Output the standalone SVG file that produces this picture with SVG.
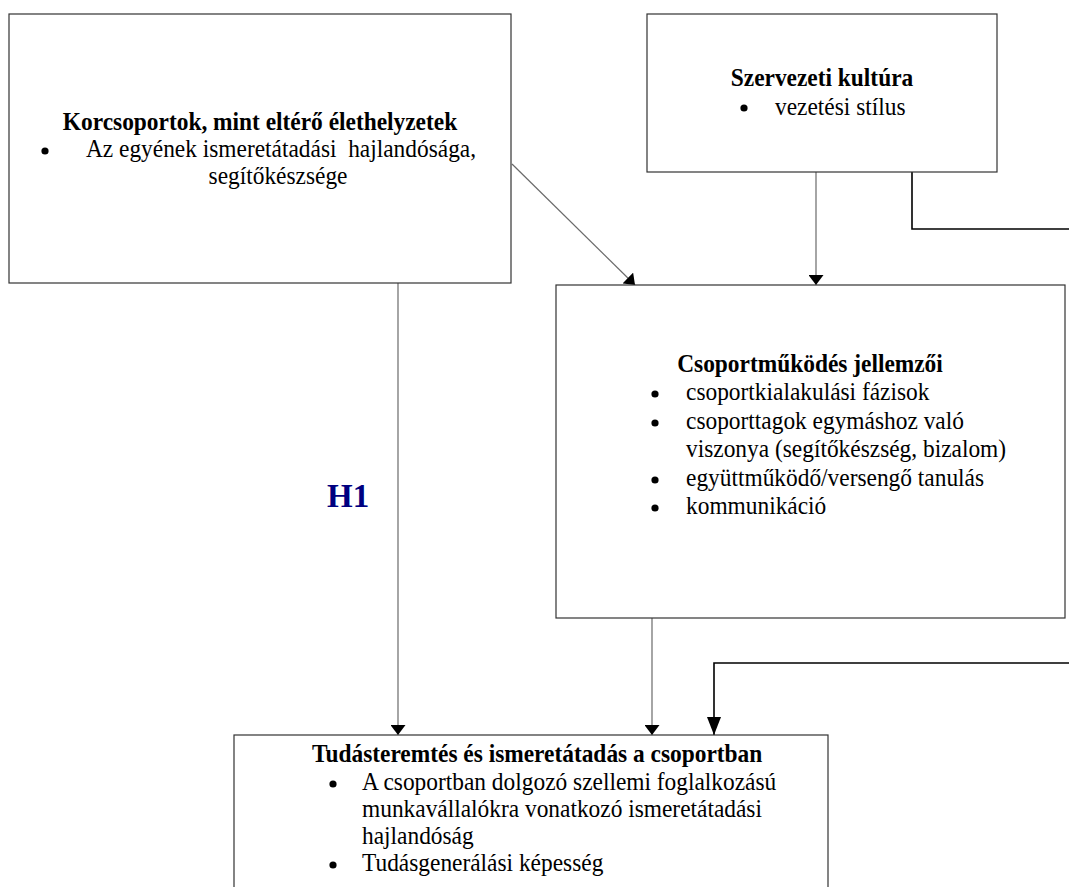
<svg xmlns="http://www.w3.org/2000/svg" width="1069" height="887" viewBox="0 0 1069 887">
<defs>
<style>
.box{fill:#fff;stroke:#333;stroke-width:1.2}
.t{font-family:"Liberation Serif","Times New Roman",serif;font-size:24.5px;fill:#000}
.b{font-weight:bold}
.m{text-anchor:middle}
.c{fill:none;stroke:#6a6a6a;stroke-width:1.2}
.k{fill:none;stroke:#000;stroke-width:1.6}
.d{fill:#000}
</style>
<marker id="ah" viewBox="0 0 10 10" refX="10" refY="5" markerWidth="10" markerHeight="15" markerUnits="userSpaceOnUse" orient="auto" preserveAspectRatio="none">
<path d="M0,0L10,5L0,10z" fill="#000"/>
</marker>
<marker id="ahb" viewBox="0 0 10 10" refX="10" refY="5" markerWidth="18" markerHeight="14" markerUnits="userSpaceOnUse" orient="auto" preserveAspectRatio="none">
<path d="M0,0L10,5L0,10z" fill="#000"/>
</marker>
</defs>
<rect width="1069" height="887" fill="#fff"/>
<g id="connectors">
<line class="c" x1="512" y1="164" x2="635" y2="285" marker-end="url(#ah)"/>
<line class="c" x1="816" y1="172" x2="816" y2="285" marker-end="url(#ah)"/>
<polyline class="k" points="912,172 912,229 1069,229"/>
<line class="c" x1="398" y1="283" x2="398" y2="735" marker-end="url(#ah)"/>
<line class="c" x1="652" y1="618" x2="652" y2="735" marker-end="url(#ah)"/>
<polyline class="k" points="1069,663 714,663 714,735" marker-end="url(#ahb)"/>
</g>
<g id="node-korcsoportok">
<rect class="box" x="9" y="14" width="502" height="269"/>
<text class="t b m" transform="translate(260,130) scale(0.955,1)">Korcsoportok, mint eltérő élethelyzetek</text>
<circle class="d" cx="45" cy="151" r="3.6"/>
<text class="t m" transform="translate(281,157) scale(0.955,1)" xml:space="preserve">Az egyének ismeretátadási  hajlandósága,</text>
<text class="t m" transform="translate(278,184) scale(0.955,1)">segítőkészsége</text>
</g>
<g id="node-szervezeti">
<rect class="box" x="647" y="14" width="350" height="158"/>
<text class="t b m" transform="translate(822,86) scale(0.955,1)">Szervezeti kultúra</text>
<circle class="d" cx="744" cy="108" r="3.6"/>
<text class="t" transform="translate(775,115) scale(0.955,1)">vezetési stílus</text>
</g>
<g id="node-csoportmukodes">
<rect class="box" x="556" y="285" width="509" height="333"/>
<text class="t b m" transform="translate(810,372) scale(0.955,1)">Csoportműködés jellemzői</text>
<circle class="d" cx="655" cy="394" r="3.6"/>
<text class="t" transform="translate(686,400) scale(0.955,1)">csoportkialakulási fázisok</text>
<circle class="d" cx="655" cy="423" r="3.6"/>
<text class="t" transform="translate(686,429) scale(0.955,1)">csoporttagok egymáshoz való</text>
<text class="t" transform="translate(686,457) scale(0.955,1)">viszonya (segítőkészség, bizalom)</text>
<circle class="d" cx="655" cy="480" r="3.6"/>
<text class="t" transform="translate(686,486) scale(0.955,1)">együttműködő/versengő tanulás</text>
<circle class="d" cx="655" cy="508" r="3.6"/>
<text class="t" transform="translate(686,514) scale(0.955,1)">kommunikáció</text>
</g>
<g id="node-tudasteremtes">
<rect class="box" x="234" y="735" width="594" height="170"/>
<text class="t b" transform="translate(312,762) scale(0.955,1)">Tudásteremtés és ismeretátadás a csoportban</text>
<circle class="d" cx="333" cy="784" r="3.6"/>
<text class="t" transform="translate(362,790) scale(0.955,1)">A csoportban dolgozó szellemi foglalkozású</text>
<text class="t" transform="translate(362,817) scale(0.955,1)">munkavállalókra vonatkozó ismeretátadási</text>
<text class="t" transform="translate(362,844) scale(0.955,1)">hajlandóság</text>
<circle class="d" cx="333" cy="865" r="3.6"/>
<text class="t" transform="translate(362,871) scale(0.955,1)">Tudásgenerálási képesség</text>
</g>
<g id="label-h1">
<text x="327" y="507" font-family="Liberation Serif, Times New Roman, serif" font-size="33" font-weight="bold" fill="#000080">H1</text>
</g>
</svg>
